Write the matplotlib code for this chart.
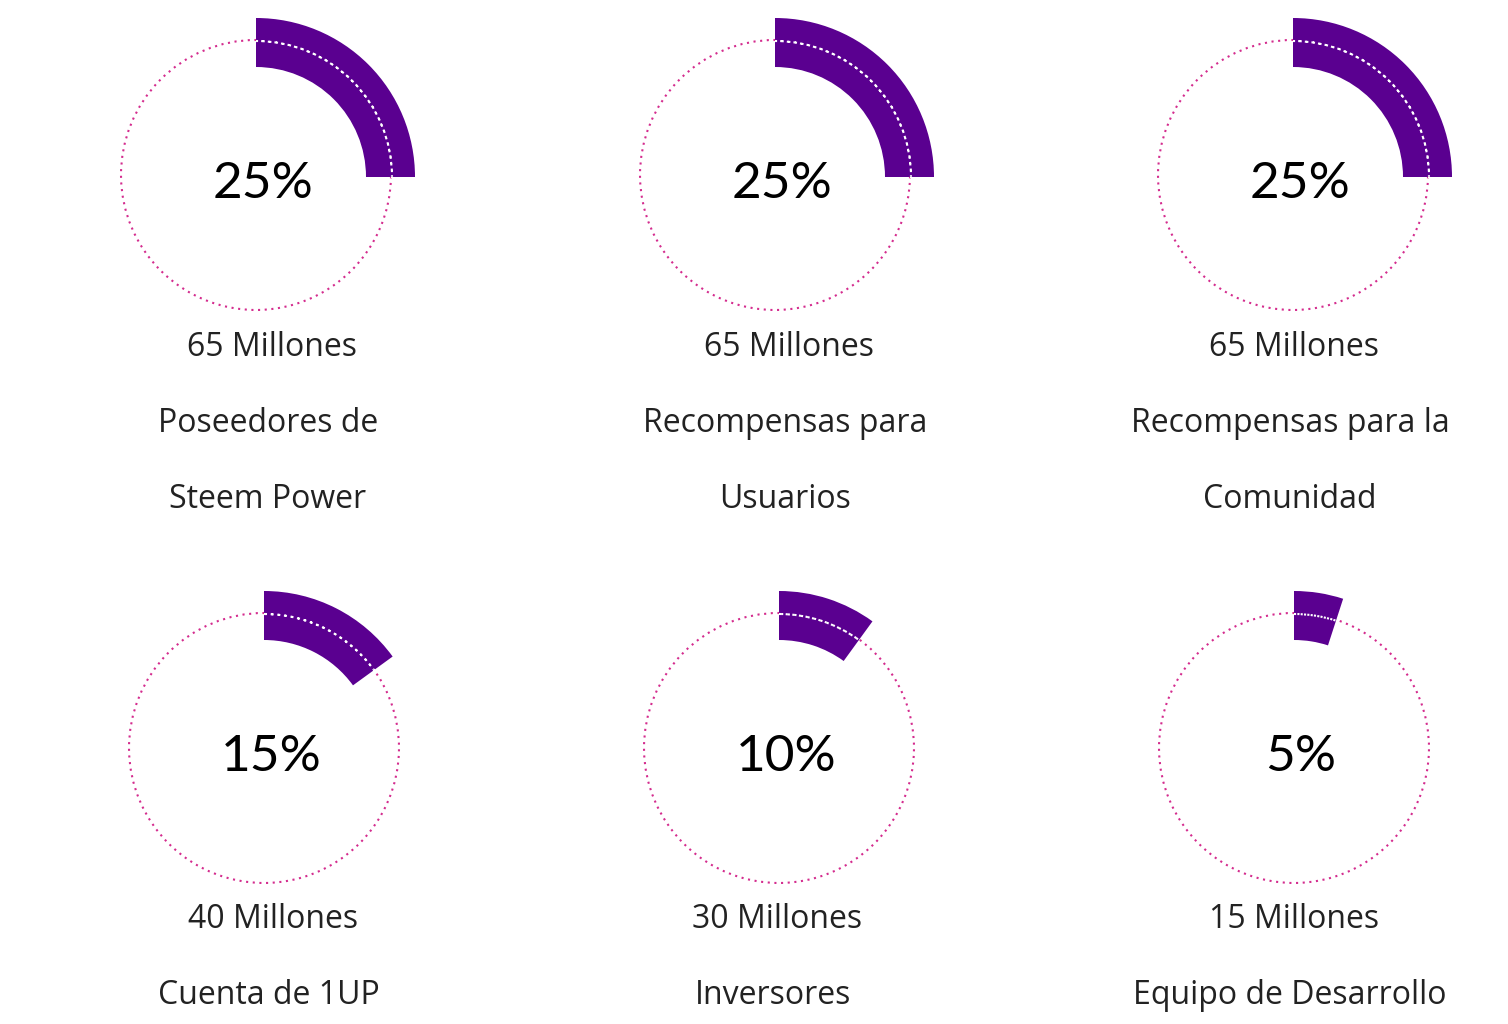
import matplotlib.pyplot as plt
from matplotlib.patches import Wedge, Circle

# data
percents = [25, 25, 25, 15, 10, 5]
amounts = ["65 Millones", "65 Millones", "65 Millones", "40 Millones", "30 Millones", "15 Millones"]
labels = [["Poseedores de", "Steem Power"],
          ["Recompensas para", "Usuarios"],
          ["Recompensas para la", "Comunidad"],
          ["Cuenta de 1UP"],
          ["Inversores"],
          ["Equipo de Desarrollo"]]

# layout (pixel coordinates)
centers = [(256, 177), (775, 177), (1293, 177), (264, 750), (779, 750), (1294, 750)]
text_x = [272, 789, 1294, 273, 777, 1294]
text_y = [348, 348, 348, 920, 920, 920]
purple = "#5A0090"
pink = "#D42C8E"

fig = plt.figure(figsize=(15.08, 10.24), dpi=100)
ax = fig.add_axes([0, 0, 1, 1])
ax.set_xlim(0, 1508)
ax.set_ylim(1024, 0)
ax.axis("off")

for i, p in enumerate(percents):
    cx, cy = centers[i]
    ax.add_patch(Circle((cx, cy - 2), 135, fill=False, ec=pink, lw=1.5, ls=(0, (1, 2.2))))
    # y axis is inverted, so angles are mirrored
    ax.add_patch(Wedge((cx, cy), 159, 270, 270 + p * 3.6, width=49, fc=purple, ec="none"))
    ax.add_patch(Wedge((cx, cy), 136, 270, 270 + p * 3.6, width=0.01, fill=False,
                       ec="white", lw=1.5, ls=(0, (1, 2.2))))
    ax.text(cx + 7, cy + 7, f"{p}%", fontsize=37, family="Lato", ha="center", va="center")
    ax.text(text_x[i], text_y[i], amounts[i], fontsize=23, family="Open Sans",
            color="#222222", ha="center", va="center")
    for j, line in enumerate(labels[i]):
        ax.text(text_x[i] - 4, text_y[i] + 76 * (j + 1), line, fontsize=23, family="Open Sans",
                color="#222222", ha="center", va="center")

fig.savefig("out.png", dpi=100)
